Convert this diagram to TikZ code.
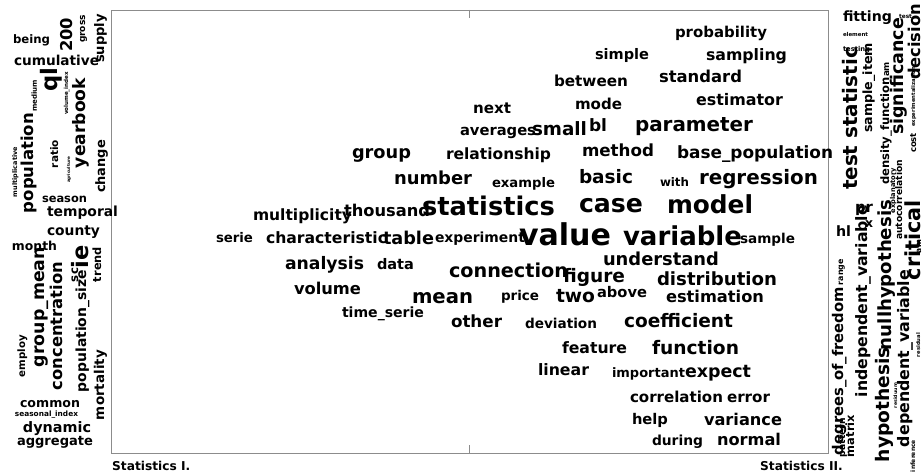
\documentclass[tikz,border=0pt]{standalone}
\usepackage{fontspec}
\setmainfont{DejaVu Sans}
\usepackage{graphicx}
\newcommand\hw[5]{\node[wd,anchor=base west] (#1) at (#2,#3) {\resizebox{#4pt}{!}{#5}};}
\newcommand\vw[5]{\node[wd,anchor=base west,rotate=90] (#1) at (#2,#3) {\resizebox{#4pt}{!}{#5}};}
\begin{document}
\begin{tikzpicture}[x=1pt,y=-1pt,
  wd/.style={inner sep=0pt,outer sep=0pt,font=\bfseries,text=black},
  frame/.style={draw=black!45,line width=0.8pt},
  label/.style={inner sep=0pt,anchor=base west,font=\bfseries\fontsize{12.2}{13}\selectfont}]
\useasboundingbox (0,0) rectangle (923,473);
% comparison frame with centre ticks
\draw[frame] (111,10) rectangle (828,453);
\coordinate (tt) at (469.5,10);
\coordinate (tb) at (469.5,453);
\draw[frame] (tt) -- ++(0,8);
\draw[frame] (tb) -- ++(0,-8);
% centre words
\hw{probability}{675}{38}{92}{probability}
\hw{simple}{595}{60}{54}{simple}
\hw{sampling}{706}{61}{81}{sampling}
\hw{between}{554}{87}{74}{between}
\hw{standard}{659}{83}{83}{standard}
\hw{mode}{575}{110}{47}{mode}
\hw{estimator}{696}{106}{87}{estimator}
\hw{next}{473}{114}{38}{next}
\hw{averages}{460}{136}{76}{averages}
\hw{small}{532}{136}{55}{small}
\hw{bl}{589}{132}{18}{bl}
\hw{parameter}{635}{132}{118}{parameter}
\hw{group}{352}{159}{59}{group}
\hw{relationship}{446}{160}{105}{relationship}
\hw{method}{582}{157}{72}{method}
\hw{basepop}{677}{158}{156}{base\_population}
\hw{number}{394}{185}{78}{number}
\hw{example}{492}{187}{63}{example}
\hw{basic}{579}{183}{54}{basic}
\hw{with}{660}{187}{29}{with}
\hw{regression}{699}{185}{119}{regression}
\hw{statistics}{422}{215}{133}{statistics}
\hw{thousand}{344}{217}{86}{thousand}
\hw{multiplicity}{253}{221}{99}{multiplicity}
\hw{case}{579}{213}{64}{case}
\hw{model}{667}{214}{86}{model}
\hw{serie}{216}{242}{37}{serie}
\hw{characteristic}{266}{243}{121}{characteristic}
\hw{table}{383}{244}{51}{table}
\hw{experiment}{435}{242}{90}{experiment}
\hw{value}{519}{245}{92}{value}
\hw{variable}{623}{245}{119}{variable}
\hw{sample}{740}{243}{55}{sample}
\hw{understand}{603}{265}{116}{understand}
\hw{analysis}{285}{269}{79}{analysis}
\hw{data}{377}{269}{37}{data}
\hw{connection}{449}{277}{119}{connection}
\hw{figure}{563}{282}{62}{figure}
\hw{distribution}{657}{285}{120}{distribution}
\hw{volume}{294}{294}{67}{volume}
\hw{mean}{412}{303}{61}{mean}
\hw{price}{501}{300}{38}{price}
\hw{two}{556}{302}{39}{two}
\hw{above}{597}{297}{50}{above}
\hw{estimation}{666}{302}{98}{estimation}
\hw{timeserie}{342}{317}{82}{time\_serie}
\hw{other}{451}{327}{51}{other}
\hw{deviation}{525}{328}{72}{deviation}
\hw{coefficient}{624}{327}{109}{coefficient}
\hw{feature}{562}{353}{65}{feature}
\hw{function}{652}{354}{87}{function}
\hw{linear}{538}{375}{51}{linear}
\hw{important}{612}{377}{73}{important}
\hw{expect}{685}{377}{66}{expect}
\hw{correlation}{630}{402}{93}{correlation}
\hw{error}{727}{402}{43}{error}
\hw{help}{632}{424}{36}{help}
\hw{variance}{704}{425}{78}{variance}
\hw{during}{652}{445}{51}{during}
\hw{normal}{717}{445}{64}{normal}
% left side words
\hw{being}{13}{44}{37}{being}
\hw{cumulative}{14}{66}{85}{cumulative}
\hw{season}{42}{202}{45}{season}
\hw{temporal}{47}{217}{71}{temporal}
\hw{county}{47}{235}{53}{county}
\hw{month}{12}{250}{45}{month}
\hw{common}{20}{407}{60}{common}
\hw{seasonalindex}{15}{416}{63}{seasonal\_index}
\hw{dynamic}{23}{432}{68}{dynamic}
\hw{aggregate}{17}{445}{76}{aggregate}
\vw{n200}{72}{52}{34}{200}
\vw{gross}{85}{43}{28}{gross}
\vw{supply}{104}{63}{49}{supply}
\vw{ql}{57}{92}{24}{ql}
\vw{volumeindex}{68}{115}{43}{volume\_index}
\vw{medium}{37}{112}{32}{medium}
\vw{yearbook}{85}{168}{90}{yearbook}
\vw{population}{34}{213}{100}{population}
\vw{ratio}{58}{168}{28}{ratio}
\vw{agriculture}{70}{183}{26}{agriculture}
\vw{multiplicative}{17}{197}{50}{multiplicative}
\vw{change}{105}{193}{53}{change}
\vw{groupmean}{44}{367}{120}{group\_mean}
\vw{concentration}{62}{390}{128}{concentration}
\vw{popsize}{86}{392}{122}{population\_size}
\vw{sc}{78}{282}{14}{sc}
\vw{ie}{88}{268}{23}{ie}
\vw{trend}{101}{282}{35}{trend}
\vw{employ}{25}{377}{42}{employ}
\vw{mortality}{104}{420}{70}{mortality}
% right side words
\hw{fitting}{843}{22}{49}{fitting}
\hw{test}{899}{19}{13}{test}
\hw{element}{843}{37}{25}{element}
\hw{testing}{843}{52}{27}{testing}
\hw{hl}{836}{236}{15}{hl}
\hw{pr}{855}{213}{18}{pr}
\hw{x}{865}{227}{8}{x}
\vw{decision}{920}{80}{76}{decision}
\vw{significance}{903}{135}{117}{significance}
\vw{experimentaliz}{915}{127}{60}{experimentalization}
\vw{cost}{916}{153}{20}{cost}
\vw{amA}{889}{77}{15}{am}
\vw{densityfunction}{889}{185}{108}{density\_function}
\vw{sampleitem}{872}{133}{90}{sample\_item}
\vw{teststatistic}{857}{190}{143}{test statistic}
\vw{explanatory}{895}{213}{45}{explanatory}
\vw{autocorrelation}{902}{240}{80}{autocorrelation}
\vw{critical}{920}{280}{80}{critical}
\vw{amB}{921}{253}{13}{am}
\vw{hypothesis}{889}{462}{115}{hypothesis}
\vw{nullhypothesis}{891}{350}{150}{nullhypothesis}
\vw{indepvar}{867}{397}{192}{independent\_variable}
\vw{dof}{843}{455}{168}{degrees\_of\_freedom}
\vw{range}{843}{285}{26}{range}
\vw{pattern}{845}{457}{39}{pattern}
\vw{matrix}{854}{457}{42}{matrix}
\vw{residuum}{897}{408}{25}{residuum}
\vw{depvar}{909}{447}{177}{dependent\_variable}
\vw{residual}{920}{357}{24}{residual}
\vw{inference}{915}{472}{32}{inference}
% panel labels
\node[label] (statI) at (112,470) {Statistics I.};
\node[label] (statII) at (760,470) {Statistics II.};
\end{tikzpicture}
\end{document}
